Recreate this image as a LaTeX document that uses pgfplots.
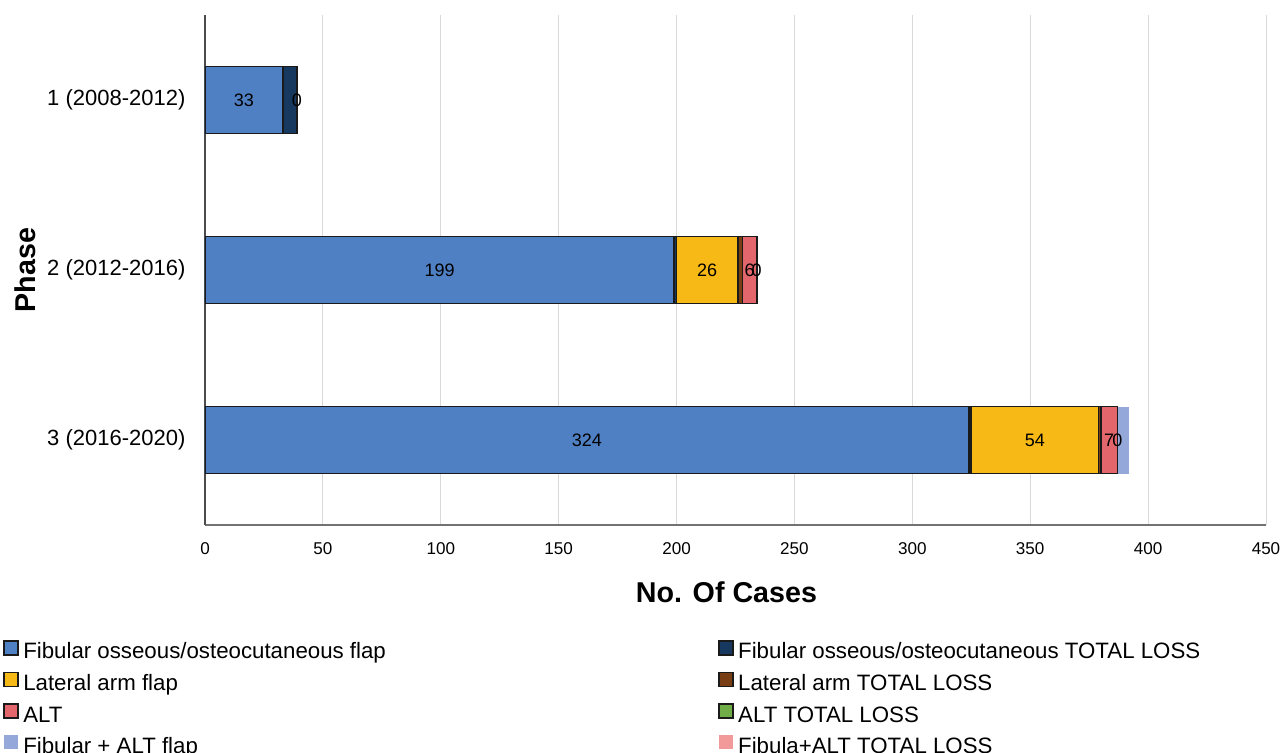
\documentclass[border=0pt]{standalone}
\usepackage{fontspec}
\setmainfont{Liberation Sans}
\usepackage{pgfplots}
\usepackage{pgfplotstable}
\pgfplotsset{compat=1.18}

\definecolor{cfib}{HTML}{5080C4}
\definecolor{cfibTL}{HTML}{17385F}
\definecolor{clat}{HTML}{F7B916}
\definecolor{clatTL}{HTML}{7A3E14}
\definecolor{calt}{HTML}{E2666B}
\definecolor{caltTL}{HTML}{70AD47}
\definecolor{cfa}{HTML}{94A9DA}
\definecolor{cfaTL}{HTML}{F19A99}
\definecolor{gridgray}{HTML}{D9D9D9}
\definecolor{outl}{HTML}{1A1A1A}

\pgfplotstableread{
y fib fibTL lat latTL alt altTL fa faTL
1 33 6 0 0 0 0 0 0
2 199 1 26 2 6 0 0 0
3 324 1 54 1 7 0 5 0
}\datatable

\pgfplotstableread{
x y label
16.5 1 33
39 1 0
99.5 2 199
213 2 26
231 2 6
234 2 0
162 3 324
352 3 54
383.5 3 7
387 3 0
}\labeltable

\begin{document}
\begin{tikzpicture}
\begin{axis}[
  at={(153.75pt,171pt)}, anchor=south west,
  scale only axis, width=795.75pt, height=382.5pt,
  xbar stacked, bar width=50.25pt,
  xmin=0, xmax=450, ymin=0.5, ymax=3.5, y dir=reverse,
  ytick={1,2,3},
  yticklabels={1 (2008-2012), 2 (2012-2016), 3 (2016-2020)},
  xtick={0,50,...,450},
  xmajorgrids, grid style={draw=gridgray, line width=0.75pt},
  tick style={draw=none},
  separate axis lines,
  axis x line*=bottom, axis y line*=left,
  x axis line style={-, draw=black!55, line width=1.4pt},
  y axis line style={-, draw=black!70, line width=1pt},
  /pgf/number format/assume math mode=true,
  xticklabel style={font=\fontsize{12.8}{14}\selectfont, inner sep=0pt, anchor=north, yshift=-13pt},
  yticklabel style={font=\fontsize{16.5}{18}\selectfont, inner sep=0pt, anchor=east, xshift=-14.5pt},
  every axis x label/.style={at={(axis description cs:0.4915,-0.1314)}, anchor=center,
     font=\fontsize{21.5}{24}\selectfont\bfseries},
  every axis y label/.style={at={(axis description cs:-0.1697,0.5)}, anchor=center, rotate=90,
     font=\fontsize{21.5}{24}\selectfont\bfseries},
  xlabel={No. Of Cases},
  ylabel={Phase},
  legend image code/.code={\path[#1] (0pt,-1pt) rectangle (10.5pt,9.5pt);},
  legend columns=2,
  legend cell align=left,
  legend style={at={(-0.1904,-0.2255)}, anchor=north west, draw=none, fill=none,
     inner sep=0pt, outer sep=0pt,
     font=\fontsize{16.7}{18}\selectfont,
     row sep=5.7pt,
     nodes={inner sep=0pt, text height=12pt, text depth=4pt},
     /tikz/every odd column/.append style={column sep=3.5pt},
     /tikz/every even column/.append style={column sep=249pt}},
]
\addplot[fill=cfib, draw=outl, line width=1.2pt] table[x=fib, y=y]{\datatable};
\addlegendentry{Fibular osseous/osteocutaneous flap}
\addplot[fill=cfibTL, draw=outl, line width=1.2pt] table[x=fibTL, y=y]{\datatable};
\addlegendentry{Fibular osseous/osteocutaneous TOTAL LOSS}
\addplot[fill=clat, draw=outl, line width=1.2pt] table[x=lat, y=y]{\datatable};
\addlegendentry{Lateral arm flap}
\addplot[fill=clatTL, draw=outl, line width=1.2pt] table[x=latTL, y=y]{\datatable};
\addlegendentry{Lateral arm TOTAL LOSS}
\addplot[fill=calt, draw=outl, line width=1.2pt] table[x=alt, y=y]{\datatable};
\addlegendentry{ALT}
\addplot[fill=caltTL, draw=outl, line width=1.2pt] table[x=altTL, y=y]{\datatable};
\addlegendentry{ALT TOTAL LOSS}
\addplot[fill=cfa, draw=none] table[x=fa, y=y]{\datatable};
\addlegendentry{Fibular + ALT flap}
\addplot[fill=cfaTL, draw=none] table[x=faTL, y=y]{\datatable};
\addlegendentry{Fibula+ALT TOTAL LOSS}
\end{axis}
\begin{axis}[
  at={(153.75pt,171pt)}, anchor=south west,
  scale only axis, width=795.75pt, height=382.5pt,
  xmin=0, xmax=450, ymin=0.5, ymax=3.5, y dir=reverse,
  hide axis,
]
\addplot[only marks, mark=none, nodes near coords, point meta=explicit symbolic,
  every node near coord/.append style={anchor=center, inner sep=0pt, font=\fontsize{13.5}{15}\selectfont}]
  table[x=x, y=y, meta=label]{\labeltable};
\end{axis}
\pgfresetboundingbox
\path[use as bounding box] (0,0) rectangle (962.25pt,564.75pt);
\end{tikzpicture}
\end{document}
